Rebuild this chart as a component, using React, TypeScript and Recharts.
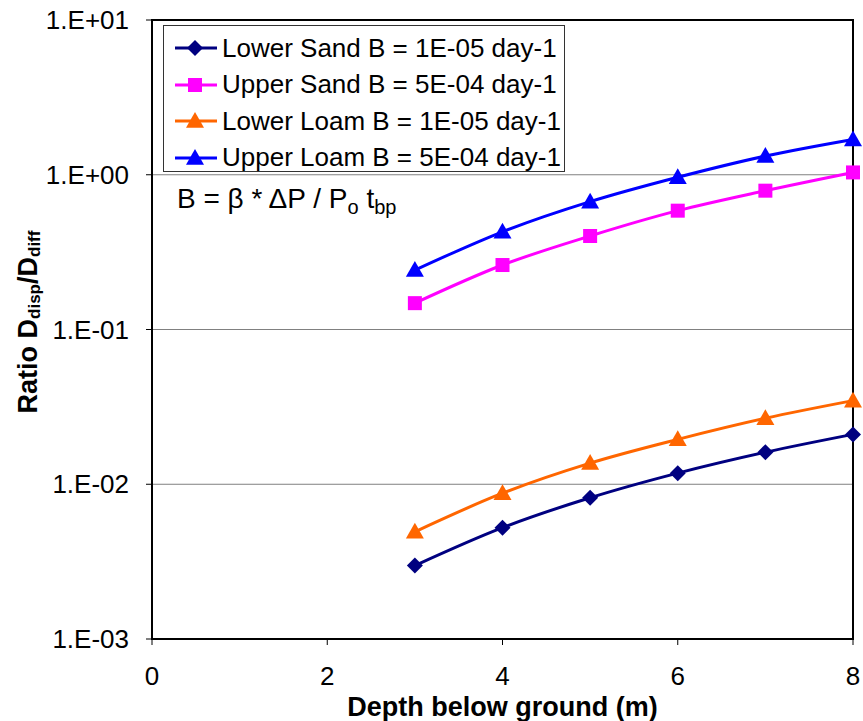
import React from 'react';
import { LineChart, Line, XAxis, YAxis, CartesianGrid, Legend, ReferenceArea } from 'recharts';

const depth = [3, 4, 5, 6, 7, 8];
const lowerSand = [0.00298, 0.00524, 0.00818, 0.0118, 0.0161, 0.021];
const upperSand = [0.148, 0.261, 0.402, 0.586, 0.789, 1.035];
const lowerLoam = [0.00493, 0.00875, 0.0137, 0.0195, 0.0267, 0.0347];
const upperLoam = [0.242, 0.428, 0.67, 0.963, 1.32, 1.69];

const xTicks = [0, 2, 4, 6, 8];
const yTicks = [0.001, 0.01, 0.1, 1, 10];
const yTickLabels = ['1.E-03', '1.E-02', '1.E-01', '1.E+00', '1.E+01'];

const FONT = '"Liberation Sans", Arial, sans-serif';

const series = [
    { key: 'lowerSand', name: 'Lower Sand B = 1E-05 day-1', color: '#000080', shape: 'diamond' },
    { key: 'upperSand', name: 'Upper Sand B = 5E-04 day-1', color: '#FF00FF', shape: 'square' },
    { key: 'lowerLoam', name: 'Lower Loam B = 1E-05 day-1', color: '#FF6600', shape: 'triangle' },
    { key: 'upperLoam', name: 'Upper Loam B = 5E-04 day-1', color: '#0000FF', shape: 'triangle' },
];

const data = depth.map((d, i) => ({
    depth: d,
    lowerSand: lowerSand[i],
    upperSand: upperSand[i],
    lowerLoam: lowerLoam[i],
    upperLoam: upperLoam[i],
}));

function Marker({ shape, color, cx, cy }: { shape: string; color: string; cx: number; cy: number }) {
    if (shape === 'diamond') {
        const r = 8;
        return <polygon points={`${cx},${cy - r} ${cx + r},${cy} ${cx},${cy + r} ${cx - r},${cy}`} fill={color} />;
    }
    if (shape === 'square') {
        const h = 7;
        return <rect x={cx - h} y={cy - h} width={h * 2} height={h * 2} fill={color} />;
    }
    const s = 9;
    return <polygon points={`${cx},${cy - s} ${cx + s},${cy + s * 0.75} ${cx - s},${cy + s * 0.75}`} fill={color} />;
}

const makeDot = (shape: string, color: string) => (props: any) => {
    const { cx, cy, index } = props;
    if (cx == null || cy == null) return <g key={index} />;
    return <Marker key={index} shape={shape} color={color} cx={cx} cy={cy} />;
};

function LegendBox() {
    return (
        <div style={{
            border: '1px solid #333', background: '#fff', width: 402, height: 147,
            boxSizing: 'border-box', padding: '4px 0 0 9px', fontFamily: FONT, fontSize: 26,
        }}>
            {series.map(s => (
                <div key={s.key} style={{ display: 'flex', alignItems: 'center', height: 36.5 }}>
                    <svg width={46} height={24} style={{ marginRight: 3, flexShrink: 0 }}>
                        <line x1={2} y1={12} x2={44} y2={12} stroke={s.color} strokeWidth={3} />
                        <Marker shape={s.shape} color={s.color} cx={22} cy={12} />
                    </svg>
                    <span style={{ color: '#000', whiteSpace: 'nowrap' }}>{s.name}</span>
                </div>
            ))}
        </div>
    );
}

export default function App() {
    return (
        <div style={{ position: 'absolute', left: 0, top: 0, background: '#fff' }}>
            <LineChart width={863} height={721} data={data} margin={{ top: 20, right: 10, left: 0, bottom: 0 }}>
                <CartesianGrid vertical={false} stroke="#808080" strokeWidth={1} />
                <ReferenceArea x1={0} x2={8} y1={0.001} y2={10} fill="none" stroke="#000" strokeWidth={2} ifOverflow="extendDomain" />
                <XAxis
                    dataKey="depth"
                    type="number"
                    domain={[0, 8]}
                    ticks={xTicks}
                    height={82}
                    stroke="#000"
                    tickSize={6}
                    tickMargin={22}
                    tick={{ fill: '#000', fontSize: 26, fontFamily: FONT }}
                    label={{ value: 'Depth below ground (m)', position: 'insideBottom', offset: 5, fill: '#000', fontSize: 27, fontWeight: 'bold', fontFamily: FONT }}
                />
                <YAxis
                    type="number"
                    scale="log"
                    domain={[0.001, 10]}
                    ticks={yTicks}
                    allowDataOverflow
                    width={152}
                    stroke="#000"
                    tickSize={6}
                    tickMargin={17}
                    tickFormatter={(v: number) => yTickLabels[yTicks.indexOf(v)] ?? String(v)}
                    tick={{ fill: '#000', fontSize: 26, fontFamily: FONT }}
                />
                <Legend
                    layout="vertical"
                    align="center"
                    verticalAlign="middle"
                    content={() => <LegendBox />}
                    wrapperStyle={{ left: 163, top: 25, width: 402, height: 147 }}
                />
                {series.map(s => (
                    <Line
                        key={s.key}
                        dataKey={s.key}
                        name={s.name}
                        type="monotone"
                        stroke={s.color}
                        strokeWidth={3}
                        dot={makeDot(s.shape, s.color)}
                        activeDot={false}
                        isAnimationActive={false}
                    />
                ))}
                <text x={28} y={322} transform="rotate(-90 28 322)" textAnchor="middle" dominantBaseline="central"
                    fontFamily={FONT} fontSize={27} fontWeight="bold" fill="#000">
                    Ratio D<tspan fontSize={17} dy={6}>disp</tspan><tspan dy={-6}>/D</tspan><tspan fontSize={17} dy={6}>diff</tspan>
                </text>
                <text x={177} y={208} fontFamily={FONT} fontSize={28} fill="#000">
                    B = β * ΔP / P<tspan fontSize={20} dy={6}>o</tspan><tspan dy={-6}> t</tspan><tspan fontSize={20} dy={6}>bp</tspan>
                </text>
            </LineChart>
        </div>
    );
}
